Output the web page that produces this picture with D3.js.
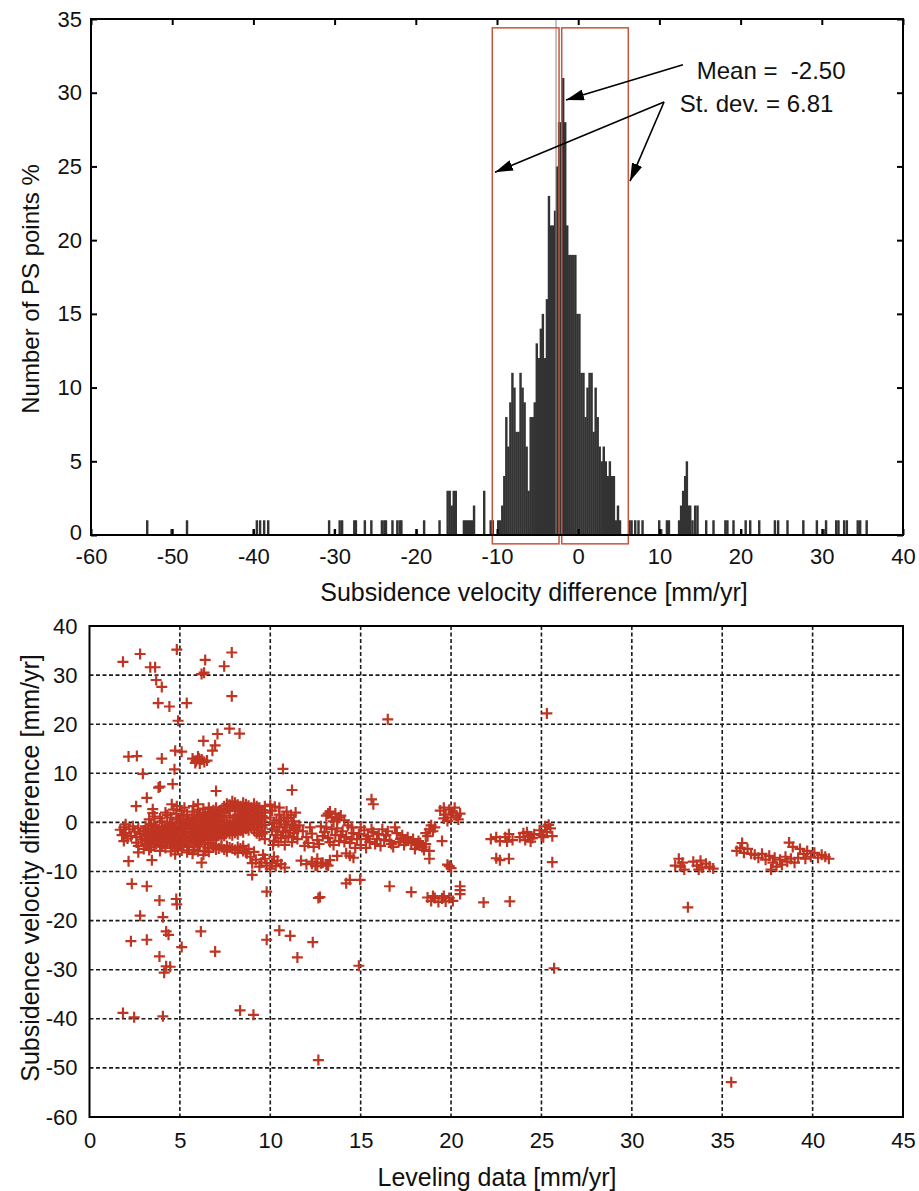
<!DOCTYPE html>
<html>
<head>
<meta charset="utf-8">
<script src="https://cdn.jsdelivr.net/npm/d3@7"></script>
<style>
  body { margin: 0; background: #fff; }
  text { font-family: "Liberation Sans", Arial, Helvetica, sans-serif; fill: #111; }
</style>
</head>
<body>
<div id="chart"></div>
<script>
// ---- histogram (top panel) ----
const histCenters = [
  -53.1, -50.1, -48.2, -40.0, -39.6, -39.2, -38.7, -38.2, -30.7, -30.0, -29.4, -29.1,
  -27.6, -27.4, -26.3, -25.5, -24.2, -23.9, -23.7, -22.9, -22.3, -22.0, -21.8, -19.9,
  -19.0, -17.1, -16.1, -15.85, -15.6, -15.35, -15.1, -14.1, -13.85, -13.6, -13.35, -13.1,
  -12.85, -11.6, -10.8, -10.55,
  -9.875, -9.625, -9.375, -9.125, -8.875, -8.625, -8.375, -8.125, -7.875, -7.625,
  -7.375, -7.125, -6.875, -6.625, -6.375, -6.125, -5.875, -5.625, -5.375, -5.125,
  -4.875, -4.625, -4.375, -4.125, -3.875, -3.625, -3.375, -3.125, -2.875, -2.625,
  -2.375, -2.125, -1.875, -1.625, -1.375, -1.125, -0.875, -0.625, -0.375, -0.125,
  0.125, 0.375, 0.625, 0.875, 1.125, 1.375, 1.625, 1.875, 2.125, 2.375,
  2.625, 2.875, 3.125, 3.375, 3.625, 3.875, 4.125, 4.375, 4.625, 4.875, 5.125,
  6.3, 6.55, 7.0, 7.4, 7.9, 9.95, 10.2, 10.9, 11.15, 12.4, 12.65, 12.9, 13.15, 13.36,
  13.56, 13.77, 14.05, 14.38, 14.67, 15.74, 16.64, 18.1, 18.35, 19.1, 20.05, 20.6,
  21.16, 22.27, 24.2, 24.6, 25.75, 27.7, 29.37, 30.2, 30.5, 31.75, 32.03, 32.73,
  33.06, 34.4, 34.7, 35.5
];
const histCounts = [
  1, 0.4, 1, 0.4, 1, 1, 1, 1, 1, 0.4, 1, 1,
  1, 1, 1, 1, 1, 1, 1, 1, 1, 1, 1, 0.4,
  1, 1, 3, 3, 2, 3, 3, 1, 1, 1, 1, 1,
  2, 3, 1, 1,
  1, 1, 2, 4, 8, 6, 9, 11, 10, 7,
  7, 11, 10, 9, 6, 3, 8, 8, 9, 13,
  12, 14, 15, 12, 16, 23, 21, 21, 22, 25,
  28, 28, 31, 28, 21, 19, 19, 19, 19, 15,
  15, 11, 11, 8, 10, 11, 11, 7, 10, 8,
  6, 5, 6, 5, 4, 5, 4, 4, 1, 2, 1,
  1, 1, 1, 1, 1, 1, 0.4, 1, 1, 1, 2, 3, 4, 5,
  2, 2, 1, 2, 2, 1, 1, 1, 1, 1, 0.4, 1,
  1, 1, 1, 1, 1, 1, 1, 0.4, 1, 1, 1, 1,
  1, 1, 1, 1
];
const histBinWidth = 0.25;
const histXTicks = [-60, -50, -40, -30, -20, -10, 0, 10, 20, 30, 40];
const histYTicks = [0, 5, 10, 15, 20, 25, 30, 35];
const meanLineX = -2.73;
const boxLeft = [-10.58, -2.36];
const boxRight = [-2.03, 6.17];
const boxYRange = [-0.6, 34.4];
const meanLabel = "Mean =  -2.50";
const stdLabel = "St. dev. = 6.81";

// ---- scatter (bottom panel) ----
const scatterUpper = [
  [1.85, 32.7], [2.8, 34.3], [3.36, 31.6], [3.63, 31.6], [3.69, 29.0], [4.0, 27.6], [4.83, 35.2],
  [6.4, 33.1], [6.2, 30.2], [6.34, 30.5], [7.45, 31.8], [7.87, 34.6], [3.8, 24.3], [4.42, 23.6],
  [5.38, 24.3], [7.87, 25.7], [4.9, 20.7], [7.74, 19.1], [8.3, 18.1], [7.08, 18.0], [6.3, 16.6],
  [6.95, 15.7], [6.8, 14.6], [2.16, 13.4], [2.62, 13.5], [4.0, 13.0], [4.74, 14.6], [5.1, 14.4],
  [5.7, 13.0], [5.9, 12.5], [6.0, 13.4], [6.1, 12.0], [6.2, 12.8], [6.35, 12.3], [6.5, 12.6],
  [5.85, 12.1], [6.05, 13.0], [4.7, 10.8], [2.95, 9.9], [10.7, 10.9], [11.2, 6.6], [3.82, 7.1],
  [3.9, 7.3], [4.6, 7.8], [7.0, 6.4], [3.17, 5.0], [16.5, 21.0], [25.3, 22.2]
];
const scatterBand = [
  [2.58, 3.3], [3.5, 2.7], [4.55, 3.7], [4.83, 3.3], [6.0, 3.7], [5.75, 3.3], [6.4, 2.0],
  [1.7, -1.5], [1.9, -1.0], [2.0, -2.2], [2.2, -1.4], [1.8, -2.6], [2.3, -2.8], [2.5, -1.9],
  [2.1, -3.3], [2.6, -3.0], [2.8, -2.4], [2.4, -0.8], [2.9, -3.5], [2.7, -1.2], [2.0, -0.4],
  [1.9, -3.8], [2.6, -4.1], [3.0, -1.7],
  [3.1, -0.8], [3.1, -1.9], [3.1, -2.9], [3.1, -3.8], [3.1, -4.6],
  [3.4, -0.3], [3.4, -1.5], [3.4, -2.4], [3.4, -3.3], [3.4, -4.2], [3.4, -5.1],
  [3.7, -0.9], [3.7, -1.8], [3.7, -2.7], [3.7, -3.6], [3.7, -4.4],
  [4.0, 0.2], [4.0, -1.2], [4.0, -2.1], [4.0, -3.0], [4.0, -3.9], [4.0, -4.8],
  [4.3, 1.5], [4.3, -0.6], [4.3, -1.6], [4.3, -2.5], [4.3, -3.4], [4.3, -4.3],
  [4.6, -0.1], [4.6, -1.1], [4.6, -2.0], [4.6, -2.9], [4.6, -3.8], [4.6, -4.7],
  [4.9, 0.6], [4.9, -0.6], [4.9, -1.5], [4.9, -2.4], [4.9, -3.3], [4.9, -4.2], [4.9, -5.3],
  [5.2, 1.2], [5.2, -0.1], [5.2, -1.0], [5.2, -1.9], [5.2, -2.8], [5.2, -3.7], [5.2, -4.6],
  [5.5, 0.4], [5.5, -0.5], [5.5, -1.4], [5.5, -2.3], [5.5, -3.2], [5.5, -4.1], [5.5, -5.0],
  [5.8, 1.0], [5.8, 0.0], [5.8, -0.9], [5.8, -1.8], [5.8, -2.7], [5.8, -3.6], [5.8, -4.5], [5.8, -5.6],
  [6.1, 1.6], [6.1, 0.5], [6.1, -0.4], [6.1, -1.3], [6.1, -2.2], [6.1, -3.1], [6.1, -4.0], [6.1, -4.9],
  [6.4, 0.9], [6.4, 0.0], [6.4, -0.9], [6.4, -1.8], [6.4, -2.7], [6.4, -3.6], [6.4, -4.5], [6.4, -5.8],
  [6.7, 2.1], [6.7, 1.2], [6.7, 0.3], [6.7, -0.6], [6.7, -1.5], [6.7, -2.4], [6.7, -3.3], [6.7, -4.2],
  [7.0, 3.0], [7.0, 1.8], [7.0, 0.8], [7.0, -0.2], [7.0, -1.1], [7.0, -2.0], [7.0, -2.9], [7.0, -4.6], [7.0, -5.5],
  [7.3, 2.6], [7.3, 1.4], [7.3, 0.4], [7.3, -0.5], [7.3, -1.4], [7.3, -2.3], [7.3, -3.2], [7.3, -5.0],
  [7.6, 3.8], [7.6, 2.8], [7.6, -0.2], [7.6, -1.1], [7.6, -2.0], [7.6, -4.8], [7.6, -5.9],
  [7.9, 4.3], [7.9, 3.2], [7.9, 0.2], [7.9, -0.8], [7.9, -1.7], [7.9, -2.6], [7.9, -5.3],
  [8.2, 3.6], [8.2, 2.6], [8.2, 1.6], [8.2, 0.6], [8.2, -0.4], [8.2, -1.4], [8.2, -2.4], [8.2, -5.0], [8.2, -6.2],
  [8.5, 4.0], [8.5, 3.0], [8.5, 2.0], [8.5, 1.0], [8.5, 0.0], [8.5, -1.0], [8.5, -2.0], [8.5, -4.8], [8.5, -5.8],
  [8.8, 3.4], [8.8, 2.4], [8.8, 1.4], [8.8, 0.4], [8.8, -0.6], [8.8, -1.6], [8.8, -5.4],
  [9.1, 3.8], [9.1, 2.6], [9.1, 1.6], [9.1, 0.6], [9.1, -0.4], [9.1, -1.6], [9.1, -6.0],
  [9.4, 3.0], [9.4, 1.8], [9.4, 0.8], [9.4, -0.4], [9.4, -1.6], [9.4, -2.7],
  [9.7, 3.3], [9.7, 2.0], [9.7, 0.8], [9.7, -0.5], [9.7, -2.0], [9.7, -3.4],
  [8.9, -7.0], [9.2, -7.6], [9.5, -8.2], [9.8, -8.8], [10.1, -8.3], [10.4, -7.8], [9.0, -8.3],
  [9.4, -9.0], [9.7, -7.4], [10.0, -9.4], [10.3, -8.9], [10.6, -8.5], [9.6, -6.6], [10.2, -7.0],
  [8.7, -6.3], [10.8, -9.2],
  [10.0, 3.6], [10.1, 2.4], [10.0, 1.0], [10.2, -0.2], [10.1, -1.4], [10.3, -2.6], [10.2, -3.8],
  [10.5, 3.0], [10.5, 1.6], [10.6, 0.4], [10.5, -0.9], [10.7, -2.0], [10.6, -3.2], [10.9, 2.2],
  [11.0, 0.9], [10.9, -0.4], [11.1, -1.6], [11.0, -2.8], [11.3, 0.2], [11.4, -1.0], [11.3, -2.2],
  [11.6, -0.6], [11.5, -3.4], [10.8, -4.6], [11.2, -4.0], [11.4, 2.0],
  [11.8, -1.8], [12.0, -3.0], [12.1, -4.2], [12.3, -2.3], [12.4, -5.0], [12.6, -3.6], [11.9, -4.8],
  [12.7, -4.4], [12.2, -1.0],
  [13.1, 1.4], [13.3, 2.2], [13.4, 1.0], [13.6, 1.8], [13.7, 0.6], [13.9, 1.4], [14.1, 0.4], [13.5, 0.2],
  [12.8, -0.8], [13.0, -2.0], [13.2, -3.2], [13.4, -1.4], [13.6, -2.6], [13.8, -3.8], [14.0, -1.8],
  [14.2, -3.0], [14.4, -4.2], [14.6, -2.2], [14.8, -3.4], [15.0, -1.0], [15.0, -4.6], [14.3, -0.6],
  [13.5, -4.6], [14.7, -5.2],
  [11.7, -7.8], [12.0, -8.5], [12.3, -8.0], [12.5, -8.8], [12.8, -8.3], [13.1, -8.6], [13.3, -7.7],
  [12.6, -7.4], [13.7, -6.8], [14.4, -6.8], [14.2, -6.3], [14.6, -7.2],
  [15.6, 4.7], [15.7, 3.7],
  [15.2, -1.6], [15.4, -2.8], [15.5, -4.0], [15.7, -2.0], [15.9, -3.4], [16.1, -4.8], [16.2, -1.4],
  [16.4, -2.6], [16.6, -3.8], [16.8, -5.0], [17.0, -2.2], [17.2, -3.4], [17.4, -4.6], [17.6, -3.0],
  [17.8, -4.2], [18.0, -5.4], [18.2, -3.8], [18.4, -5.0], [18.6, -4.4], [18.8, -5.8], [15.3, -5.2],
  [16.9, -1.0],
  [18.6, -2.2], [18.8, -1.4], [18.9, -0.6], [19.0, -1.8], [19.1, -1.0], [18.7, -2.8],
  [19.5, -3.8], [18.8, -7.4], [19.9, -8.9], [19.8, -8.6], [20.0, -9.3],
  [19.4, 2.4], [19.6, 3.0], [19.7, 1.6], [19.9, 2.6], [20.0, 1.0], [20.1, 2.0], [20.3, 1.4],
  [20.4, 0.6], [19.6, 0.8], [20.2, 3.0], [19.8, 0.3], [20.5, 1.8],
  [22.2, -3.4], [22.5, -3.0], [22.7, -3.8], [22.5, -7.3], [22.7, -7.7], [23.2, -7.4],
  [23.0, -3.0], [23.2, -2.4], [23.4, -3.6], [23.1, -3.9],
  [23.8, -3.0], [24.0, -2.2], [24.1, -3.6], [24.3, -2.8], [24.4, -3.9], [24.6, -2.4], [24.2, -2.0], [24.5, -3.2],
  [24.9, -1.6], [25.0, -2.6], [25.2, -0.8], [25.3, -2.0], [25.5, -1.2], [25.6, -2.8], [25.1, -3.0], [25.4, -0.5],
  [25.6, -8.1],
  [32.4, -8.8], [32.6, -7.4], [32.8, -8.2], [32.9, -9.6], [32.7, -9.0],
  [33.4, -8.0], [33.6, -8.8], [33.8, -7.8], [33.9, -9.2], [34.1, -8.4], [34.3, -9.0], [34.5, -9.4], [33.7, -9.6],
  [35.8, -5.8], [36.0, -5.2], [36.2, -6.2], [36.4, -5.4], [36.6, -6.4], [36.1, -4.2],
  [36.8, -6.6], [37.0, -7.2], [37.2, -6.4], [37.4, -7.6], [37.6, -6.8], [37.8, -8.2], [37.9, -7.2],
  [38.0, -9.0], [38.2, -7.6], [38.3, -8.6], [38.5, -7.0], [38.6, -8.0], [38.8, -7.4], [39.0, -8.2],
  [39.2, -7.2], [37.7, -9.6], [38.7, -4.1], [38.9, -5.0],
  [39.3, -5.4], [39.5, -6.4], [39.7, -5.8], [39.9, -7.0], [40.1, -6.2], [40.3, -7.2], [40.5, -6.6],
  [40.7, -7.0], [40.9, -7.4], [39.6, -7.4]
];
// extra points read in the dense core of the band
const scatterCore = [
  [3.25, -1.3], [3.25, -2.4], [3.25, -3.4], [3.25, -4.3],
  [3.55, -0.6], [3.55, -2.0], [3.55, -3.0], [3.55, -3.9],
  [3.85, -1.4], [3.85, -2.3], [3.85, -3.2], [3.85, -4.1],
  [4.15, -0.9], [4.15, -1.8], [4.15, -2.7], [4.15, -3.6],
  [4.45, -0.3], [4.45, -1.3], [4.45, -2.2], [4.45, -3.1], [4.45, -4.0],
  [4.75, -0.8], [4.75, -1.8], [4.75, -2.7], [4.75, -3.6], [4.75, -4.5],
  [5.05, 0.3], [5.05, -0.7], [5.05, -1.6], [5.05, -2.5], [5.05, -3.4], [5.05, -4.3],
  [5.35, 0.6], [5.35, -0.3], [5.35, -1.2], [5.35, -2.1], [5.35, -3.0], [5.35, -3.9],
  [5.65, 0.7], [5.65, -0.2], [5.65, -1.1], [5.65, -2.0], [5.65, -2.9], [5.65, -3.8],
  [5.95, 1.3], [5.95, 0.3], [5.95, -0.6], [5.95, -1.5], [5.95, -2.4], [5.95, -3.3], [5.95, -4.2],
  [6.25, 1.1], [6.25, 0.2], [6.25, -0.7], [6.25, -1.6], [6.25, -2.5], [6.25, -3.4],
  [6.55, 1.6], [6.55, 0.6], [6.55, -0.3], [6.55, -1.2], [6.55, -2.1], [6.55, -3.0], [6.55, -5.2],
  [6.85, 2.5], [6.85, 1.5], [6.85, 0.5], [6.85, -0.4], [6.85, -1.3], [6.85, -2.2], [6.85, -3.6], [6.85, -5.0],
  [7.15, 2.2], [7.15, 1.1], [7.15, 0.1], [7.15, -0.8], [7.15, -1.7], [7.15, -2.6], [7.15, -5.3],
  [7.45, 3.3], [7.45, 2.0], [7.45, 1.0], [7.45, -0.1], [7.45, -0.9], [7.45, -1.8], [7.45, -2.7], [7.45, -5.5],
  [7.75, 3.6], [7.75, 2.4], [7.75, 1.4], [7.75, -0.4], [7.75, -1.4], [7.75, -2.3], [7.75, -5.1],
  [8.05, 4.0], [8.05, 2.9], [8.05, 1.0], [8.05, -0.2], [8.05, -1.2], [8.05, -2.1], [8.05, -5.6],
  [8.35, 3.3], [8.35, 2.3], [8.35, 1.3], [8.35, 0.3], [8.35, -0.7], [8.35, -1.7], [8.35, -5.3],
  [8.65, 3.7], [8.65, 2.7], [8.65, 1.7], [8.65, 0.7], [8.65, -0.3], [8.65, -1.3], [8.65, -6.0],
  [8.95, 3.0], [8.95, 2.0], [8.95, 1.0], [8.95, 0.0], [8.95, -1.1],
  [9.25, 3.3], [9.25, 2.2], [9.25, 1.2], [9.25, 0.2], [9.25, -1.0], [9.25, -2.2],
  [9.55, 2.5], [9.55, 1.3], [9.55, 0.2], [9.55, -1.0], [9.55, -2.3],
  [10.25, 3.2], [10.35, 0.4], [10.4, -1.8], [10.75, 1.0], [10.8, -1.0], [10.85, -3.0], [11.15, 1.5],
  [11.2, -0.5], [11.25, -3.0], [11.5, -1.6], [10.15, -4.6], [10.45, -4.0],
  [12.9, -2.8], [13.1, -1.0], [13.3, -4.0], [13.7, -1.2], [13.9, -2.6], [14.1, -4.0], [14.5, -1.0],
  [14.5, -3.4], [14.9, -2.4], [15.3, -3.4], [15.6, -1.4], [15.8, -4.4], [16.0, -2.4], [16.3, -3.6],
  [16.5, -1.8], [16.7, -4.4], [17.1, -4.0], [17.3, -2.6], [17.5, -3.8], [17.9, -3.4], [18.1, -4.6],
  [18.3, -4.2], [18.5, -5.6], [13.2, 1.8], [13.8, 1.0],
  // upper and lower edges of the band, x 3 to 6.6
  [3.3, 0.6], [3.6, 1.2], [3.9, 0.8], [4.2, 2.0], [4.5, 1.0], [4.8, 1.8], [5.1, 2.4], [5.4, 1.6],
  [5.7, 2.2], [6.0, 2.6], [6.3, 2.8], [6.6, 3.0], [3.5, 1.9], [4.65, 2.6], [5.25, 3.0],
  [3.3, -5.6], [3.6, -4.9], [3.9, -5.8], [4.2, -5.2], [4.5, -5.9], [4.8, -5.0], [5.1, -5.7],
  [5.4, -6.1], [5.7, -6.4], [6.0, -5.9], [6.3, -6.6], [6.6, -6.0], [3.0, -5.4], [2.7, -4.8]
];
const scatterLower = [
  [2.16, -7.9], [2.7, -6.1], [3.45, -7.7], [4.74, -6.5], [6.2, -8.2], [9.0, -10.7], [9.8, -14.1],
  [2.34, -12.5], [3.17, -13.0], [3.87, -15.9], [4.8, -15.6], [4.83, -16.7], [2.8, -19.0], [4.06, -19.3],
  [4.24, -22.2], [4.37, -22.9], [2.29, -24.2], [3.17, -23.9], [6.16, -22.2], [5.1, -25.4], [6.95, -26.3],
  [3.87, -27.3], [4.24, -29.3], [4.46, -29.4], [4.13, -30.6], [9.8, -23.9], [10.5, -22.0], [11.1, -23.1],
  [11.5, -27.5], [12.35, -24.4], [12.66, -15.4], [12.75, -15.2],
  [12.3, -8.4], [12.6, -8.9], [12.9, -8.2], [13.2, -8.8],
  [14.2, -12.4], [14.4, -11.7], [14.97, -11.7], [14.9, -29.2], [12.66, -48.4], [16.6, -13.0],
  [17.8, -14.2],
  [18.7, -15.3], [18.9, -16.0], [19.1, -15.4], [19.3, -16.2], [19.5, -15.5], [19.7, -16.1],
  [19.9, -15.4], [20.1, -16.0], [19.0, -15.0], [19.6, -15.0],
  [20.5, -13.0], [20.5, -13.8], [20.5, -14.6], [21.8, -16.3], [23.25, -16.1],
  [25.7, -29.7], [1.85, -38.8], [2.47, -39.7], [4.06, -39.5], [8.33, -38.3], [9.07, -39.2],
  [33.1, -17.3], [35.5, -52.9]
];
const scatterXTicks = [0, 5, 10, 15, 20, 25, 30, 35, 40, 45];
const scatterYTicks = [-60, -50, -40, -30, -20, -10, 0, 10, 20, 30, 40];

const W = 919, H = 1191;
const FONT = '"Liberation Sans", Arial, Helvetica, sans-serif';
const TICK_FS = 22, TITLE_FS = 25;
const plainFormat = (d) => String(d); // hyphen minus, like the original

const svg = d3.select("#chart").append("svg").attr("width", W).attr("height", H);

svg.append("defs").append("marker")
  .attr("id", "arrow")
  .attr("viewBox", "0 0 18 11")
  .attr("refX", 18).attr("refY", 5.5)
  .attr("markerWidth", 18).attr("markerHeight", 11)
  .attr("markerUnits", "userSpaceOnUse")
  .attr("orient", "auto")
  .append("path").attr("d", "M0,0L18,5.5L0,11Z").attr("fill", "#000");

// ===== top: histogram =====
const hx = d3.scaleLinear().domain([-60, 40]).range([91, 903]);
const hy = d3.scaleLinear().domain([0, 35]).range([535, 19]);
const gTop = svg.append("g");

gTop.append("g").selectAll("rect").data(histCenters).join("rect")
  .attr("x", (d) => hx(d - histBinWidth / 2))
  .attr("width", (d) => hx(d + histBinWidth / 2) - hx(d - histBinWidth / 2) + 0.4)
  .attr("y", (d, i) => hy(histCounts[i]))
  .attr("height", (d, i) => hy(0) - hy(histCounts[i]))
  .attr("fill", "#333");

gTop.append("line")
  .attr("x1", hx(meanLineX)).attr("x2", hx(meanLineX))
  .attr("y1", hy(35)).attr("y2", hy(0))
  .attr("stroke", "#888").attr("stroke-width", 1);

[boxLeft, boxRight].forEach((b) => {
  gTop.append("rect")
    .attr("x", hx(b[0])).attr("width", hx(b[1]) - hx(b[0]))
    .attr("y", hy(boxYRange[1])).attr("height", hy(boxYRange[0]) - hy(boxYRange[1]))
    .attr("fill", "none").attr("stroke", "#c8553d").attr("stroke-width", 1.5);
});

// frame + inward ticks on all four sides
gTop.append("rect").attr("x", 91).attr("y", 19).attr("width", 812).attr("height", 516)
  .attr("fill", "none").attr("stroke", "#000").attr("stroke-width", 2);
gTop.append("g").attr("transform", "translate(0,535)")
  .call(d3.axisBottom(hx).tickValues(histXTicks).tickSize(-6).tickPadding(13).tickFormat(plainFormat))
  .call((g) => g.select(".domain").remove());
gTop.append("g").attr("transform", "translate(0,19)")
  .call(d3.axisTop(hx).tickValues(histXTicks).tickSize(-6).tickFormat(""))
  .call((g) => g.select(".domain").remove());
gTop.append("g").attr("class", "hy-axis").attr("transform", "translate(91,0)")
  .call(d3.axisLeft(hy).tickValues(histYTicks).tickSize(-6).tickPadding(9).tickFormat(plainFormat))
  .call((g) => g.select(".domain").remove());
gTop.append("g").attr("transform", "translate(903,0)")
  .call(d3.axisRight(hy).tickValues(histYTicks).tickSize(-6).tickFormat(""))
  .call((g) => g.select(".domain").remove());

gTop.selectAll(".tick line").attr("stroke", "#000").attr("stroke-width", 2);
gTop.selectAll(".tick text").attr("font-size", TICK_FS).attr("fill", "#111").style("font-family", FONT);
// keep the "0" label clear of the "-60" label below it
gTop.selectAll(".hy-axis .tick text").filter((d) => d === 0).attr("dy", "0.2em");

gTop.append("text").attr("x", 534).attr("y", 601).attr("text-anchor", "middle")
  .attr("font-size", TITLE_FS).text("Subsidence velocity difference [mm/yr]");
gTop.append("text").attr("transform", "translate(39,289) rotate(-90)").attr("text-anchor", "middle")
  .attr("font-size", 24).text("Number of PS points %");

// annotations
gTop.append("text").attr("x", hx(14.6)).attr("y", hy(30.9)).attr("font-size", 24)
  .style("white-space", "pre").text(meanLabel);
gTop.append("text").attr("x", hx(12.5)).attr("y", hy(28.7)).attr("font-size", 24)
  .style("white-space", "pre").text(stdLabel);
const arrows = [
  [[12.9, 31.9], [-1.5, 29.5]],
  [[10.57, 29.37], [-10.25, 24.6]],
  [[10.57, 29.37], [6.38, 24.0]]
];
gTop.append("g").selectAll("line").data(arrows).join("line")
  .attr("x1", (d) => hx(d[0][0])).attr("y1", (d) => hy(d[0][1]))
  .attr("x2", (d) => hx(d[1][0])).attr("y2", (d) => hy(d[1][1]))
  .attr("stroke", "#000").attr("stroke-width", 1.6)
  .attr("marker-end", "url(#arrow)");

// ===== bottom: scatter =====
const sx = d3.scaleLinear().domain([0, 45]).range([89.5, 903]);
const sy = d3.scaleLinear().domain([-60, 40]).range([1117, 626]);
const gBot = svg.append("g");

gBot.append("g").selectAll("line").data(scatterXTicks.slice(1, -1)).join("line")
  .attr("x1", (d) => sx(d)).attr("x2", (d) => sx(d)).attr("y1", 626).attr("y2", 1117)
  .attr("stroke", "#1a1a1a").attr("stroke-width", 1.6).attr("stroke-dasharray", "4,2.5");
gBot.append("g").selectAll("line").data(scatterYTicks.slice(1, -1)).join("line")
  .attr("y1", (d) => sy(d)).attr("y2", (d) => sy(d)).attr("x1", 89.5).attr("x2", 903)
  .attr("stroke", "#1a1a1a").attr("stroke-width", 1.6).attr("stroke-dasharray", "4,2.5");

const allPoints = scatterUpper.concat(scatterBand, scatterCore, scatterLower);
gBot.append("g").selectAll("path").data(allPoints).join("path")
  .attr("transform", (d) => `translate(${sx(d[0])},${sy(d[1])})`)
  .attr("d", "M-5.5,0H5.5M0,-5.5V5.5")
  .attr("stroke", "#bf3522").attr("stroke-width", 2.2).attr("fill", "none");

gBot.append("rect").attr("x", 89.5).attr("y", 626).attr("width", 813.5).attr("height", 491)
  .attr("fill", "none").attr("stroke", "#000").attr("stroke-width", 2);

gBot.append("g").attr("transform", "translate(0,1117)")
  .call(d3.axisBottom(sx).tickValues(scatterXTicks).tickSize(0).tickPadding(15).tickFormat(plainFormat))
  .call((g) => g.select(".domain").remove());
gBot.append("g").attr("transform", "translate(89.5,0)")
  .call(d3.axisLeft(sy).tickValues(scatterYTicks).tickSize(0).tickPadding(12).tickFormat(plainFormat))
  .call((g) => g.select(".domain").remove());
gBot.selectAll(".tick text").attr("font-size", TICK_FS).attr("fill", "#111").style("font-family", FONT);

gBot.append("text").attr("x", 497).attr("y", 1186).attr("text-anchor", "middle")
  .attr("font-size", TITLE_FS).text("Leveling data [mm/yr]");
gBot.append("text").attr("transform", "translate(39,868) rotate(-90)").attr("text-anchor", "middle")
  .attr("font-size", TITLE_FS).text("Subsidence velocity difference [mm/yr]");
</script>
</body>
</html>
